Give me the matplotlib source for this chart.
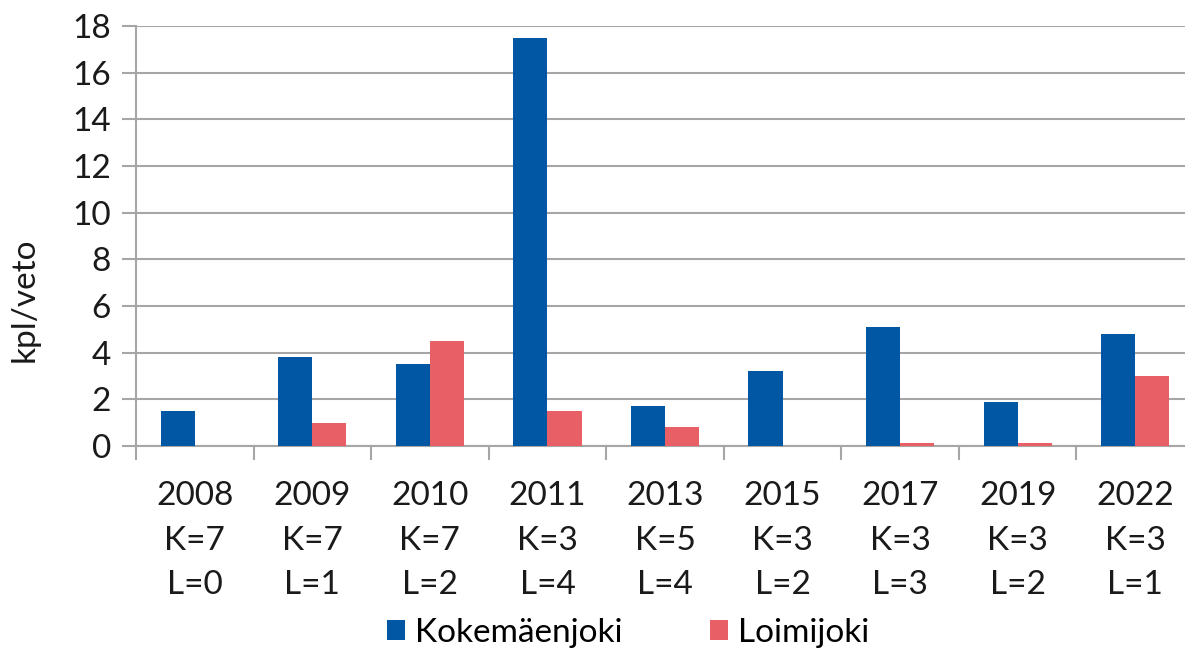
import numpy as np
import matplotlib
matplotlib.use('Agg')
import matplotlib.pyplot as plt

# Data
years = ['2008', '2009', '2010', '2011', '2013', '2015', '2017', '2019', '2022']
k_counts = [7, 7, 7, 3, 5, 3, 3, 3, 3]
l_counts = [0, 1, 2, 4, 4, 2, 3, 2, 1]
kokemaenjoki = [1.5, 3.8, 3.5, 17.5, 1.7, 3.2, 5.1, 1.9, 4.8]
loimijoki = [0, 1.0, 4.5, 1.5, 0.8, 0, 0.15, 0.15, 3.0]

labels = ['{}\nK={}\nL={}'.format(y, k, l) for y, k, l in zip(years, k_counts, l_counts)]

plt.rcParams['font.family'] = ['Lato', 'DejaVu Sans']

fig = plt.figure(figsize=(11.85, 6.51), dpi=100)
ax = fig.add_axes([136 / 1185, 1 - 446 / 651, (1194 - 136) / 1185, (446 - 26) / 651])

x = np.arange(len(years))
w = 0.29
ax.bar(x - w / 2, kokemaenjoki, w, color='#0257a4', label='Kokemäenjoki', zorder=3)
ax.bar(x + w / 2, loimijoki, w, color='#e85f66', label='Loimijoki', zorder=3)

ax.set_xlim(-0.5, 8.5)
ax.set_ylim(0, 18)
ax.set_yticks(range(0, 19, 2))
ax.yaxis.grid(True, color='#a6a6a6', linewidth=1.5, zorder=0)

ax.set_xticks(x)
ax.set_xticklabels(labels, fontsize=24, linespacing=1.62, color='#1a1a1a')
ax.set_xticks(np.arange(-0.5, 9, 1), minor=True)
ax.tick_params(axis='x', which='major', length=0, pad=25)
ax.tick_params(axis='x', which='minor', length=10, width=1.5, color='#a6a6a6')
ax.tick_params(axis='y', length=10, width=1.5, color='#a6a6a6', labelsize=24,
               labelcolor='#1a1a1a', pad=8)

for side in ['top', 'right']:
    ax.spines[side].set_visible(False)
for side in ['left', 'bottom']:
    ax.spines[side].set_color('#a6a6a6')
    ax.spines[side].set_linewidth(1.5)

fig.text(25 / 1185, 1 - 300 / 651, 'kpl/veto', rotation=90, fontsize=24,
         ha='center', va='center', color='#1a1a1a')

fig.legend(loc='center', bbox_to_anchor=(0.53, 1 - 633 / 651), ncol=2, frameon=False,
           fontsize=24, handlelength=0.55, handleheight=0.55, handletextpad=0.3,
           columnspacing=2.6)

fig.savefig('out.png', dpi=100)
